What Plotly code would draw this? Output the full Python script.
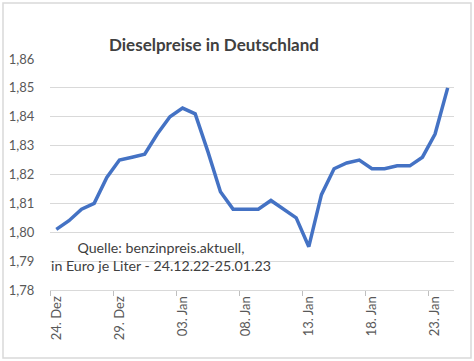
import plotly.graph_objects as go

dates = ["24. Dez", "25. Dez", "26. Dez", "27. Dez", "28. Dez", "29. Dez", "30. Dez", "31. Dez",
         "01. Jan", "02. Jan", "03. Jan", "04. Jan", "05. Jan", "06. Jan", "07. Jan", "08. Jan",
         "09. Jan", "10. Jan", "11. Jan", "12. Jan", "13. Jan", "14. Jan", "15. Jan", "16. Jan",
         "17. Jan", "18. Jan", "19. Jan", "20. Jan", "21. Jan", "22. Jan", "23. Jan", "24. Jan"]
prices = [1.801, 1.804, 1.808, 1.810, 1.819, 1.825, 1.826, 1.827,
          1.834, 1.840, 1.843, 1.841, 1.828, 1.814, 1.808, 1.808,
          1.808, 1.811, 1.808, 1.805, 1.795, 1.813, 1.822, 1.824,
          1.825, 1.822, 1.822, 1.823, 1.823, 1.826, 1.834, 1.850]
y_ticks = [1.78, 1.79, 1.80, 1.81, 1.82, 1.83, 1.84, 1.85, 1.86]

title = "Dieselpreise in Deutschland"
note = "Quelle: benzinpreis.aktuell,<br>in Euro je Liter - 24.12.22-25.01.23"

FONT = "Lato"
W, H = 474, 361
L, R, T, B = 50, 20, 59, 71
pw, ph = W - L - R, H - T - B

fig = go.Figure(go.Scatter(
    x=dates, y=prices, mode="lines",
    line=dict(color="#4472C4", width=3.5),
))

fig.update_layout(
    width=W, height=H,
    margin=dict(l=L, r=R, t=T, b=B, autoexpand=False),
    paper_bgcolor="white", plot_bgcolor="white",
    separators=",.",
    showlegend=False,
    font=dict(family=FONT, color="#595959"),
    title=dict(text="<b>" + title + "</b>", x=214 / W, xanchor="center",
               y=1 - 45 / H, yanchor="middle",
               font=dict(family=FONT, size=17, color="#404040")),
)

fig.update_xaxes(
    type="category", tickmode="linear", tick0=0, dtick=5,
    tickson="boundaries", ticks="outside", ticklen=5, tickcolor="#bfbfbf",
    tickangle=-90, tickfont=dict(size=13, color="#595959"),
    showgrid=False, showline=True, linecolor="#d9d9d9", linewidth=1,
    range=[-0.5, len(dates) - 0.5], automargin=False,
)
fig.update_yaxes(
    range=[1.78, 1.86], tickvals=y_ticks, tickformat=".2f",
    showgrid=True, gridcolor="#d9d9d9", gridwidth=1,
    zeroline=False, showline=False, ticks="outside", ticklen=12, tickcolor="rgba(0,0,0,0)",
    tickfont=dict(size=13, color="#595959"), automargin=False,
)

fig.add_annotation(
    text=note, xref="paper", yref="paper",
    x=(161 - L) / pw, y=(290 - 256) / ph, xanchor="center", yanchor="middle",
    showarrow=False, align="center",
    font=dict(family=FONT, size=14.2, color="#404040"),
)

fig.add_shape(
    type="rect", xref="paper", yref="paper",
    x0=(3 - L) / pw, x1=(471 - L) / pw,
    y0=(T + ph - 358) / ph, y1=(T + ph - 3) / ph,
    line=dict(color="#d9d9d9", width=1.5), fillcolor="rgba(0,0,0,0)", layer="below",
)

fig.write_html("out.html", config={"displayModeBar": False},
               post_script="document.body.style.margin='0';")
